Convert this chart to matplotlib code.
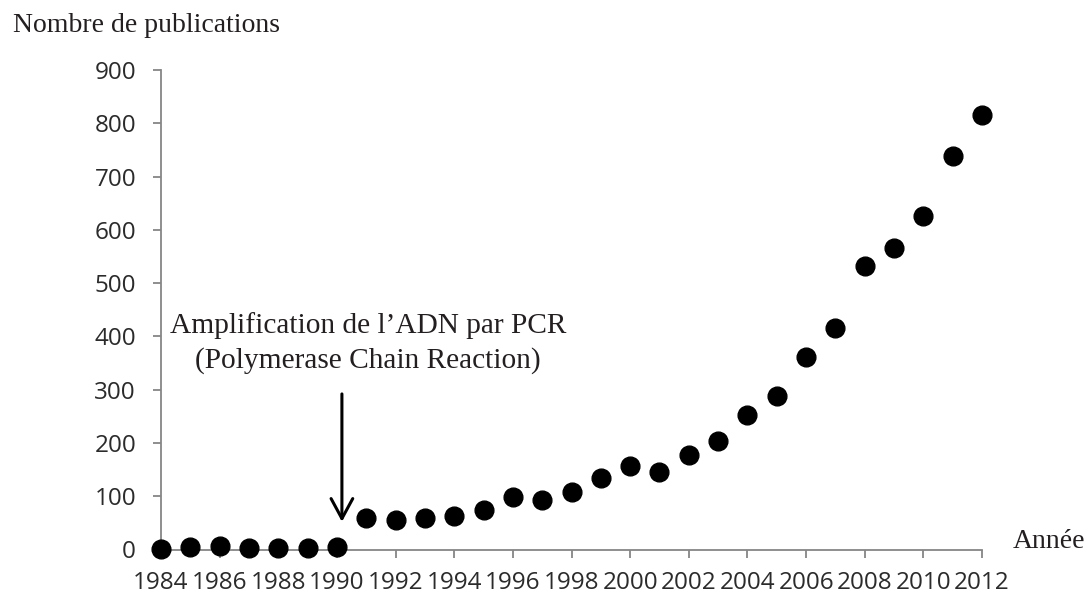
import matplotlib
matplotlib.use("Agg")
import matplotlib.pyplot as plt
import numpy as np

years = np.arange(1984, 2013)
publications = [1, 4, 7, 3, 2, 3, 5, 60, 55, 59, 63, 75, 99, 93, 107, 135,
                157, 145, 178, 203, 253, 288, 361, 416, 533, 565, 626, 739, 815]
x_ticks = list(range(1984, 2013, 2))
y_ticks = list(range(0, 1000, 100))

axis_grey = "#868686"
tick_text = "#2b2b2b"
serif_text = "#231f20"

fig = plt.figure(figsize=(10.92, 5.96), dpi=100)
ax = fig.add_axes([161 / 1092, 1 - 549.5 / 596, (982 - 161) / 1092, (549.5 - 70) / 596])

ax.plot(years, publications, "o", color="black", markersize=13.5, clip_on=False, zorder=3)

ax.set_xlim(1984, 2012)
ax.set_ylim(0, 900)
ax.set_xticks(x_ticks)
ax.set_yticks(y_ticks)

for side in ("top", "right"):
    ax.spines[side].set_visible(False)
for side in ("left", "bottom"):
    ax.spines[side].set_color(axis_grey)
    ax.spines[side].set_linewidth(1.3)

ax.tick_params(axis="both", direction="out", length=6, width=1.3, color=axis_grey,
               labelcolor=tick_text, labelsize=17.5)
ax.tick_params(axis="x", pad=9.5)
ax.tick_params(axis="y", pad=12)
for lab in ax.get_xticklabels() + ax.get_yticklabels():
    lab.set_fontfamily("Open Sans")

# arrow marking the PCR date
ax.annotate("", xy=(1990.17, 52), xytext=(1990.17, 292),
            arrowprops=dict(arrowstyle="->,head_length=0.72,head_width=0.39",
                            lw=2.2, color="black", mutation_scale=20,
                            shrinkA=0, shrinkB=0))

ax.text(1991.06, 406, "Amplification de l\u2019ADN par PCR", ha="center", va="baseline",
        fontsize=21.2, family="Liberation Serif", color=serif_text)
ax.text(1991.06, 341, "(Polymerase Chain Reaction)", ha="center", va="baseline",
        fontsize=21.2, family="Liberation Serif", color=serif_text)

fig.text(13 / 1092, 1 - 32 / 596, "Nombre de publications", ha="left", va="baseline",
         fontsize=20, family="Liberation Serif", color=serif_text)
fig.text(1013 / 1092, 1 - 548 / 596, "Année", ha="left", va="baseline",
         fontsize=20, family="Liberation Serif", color=serif_text)

fig.savefig("out.png", dpi=100)
